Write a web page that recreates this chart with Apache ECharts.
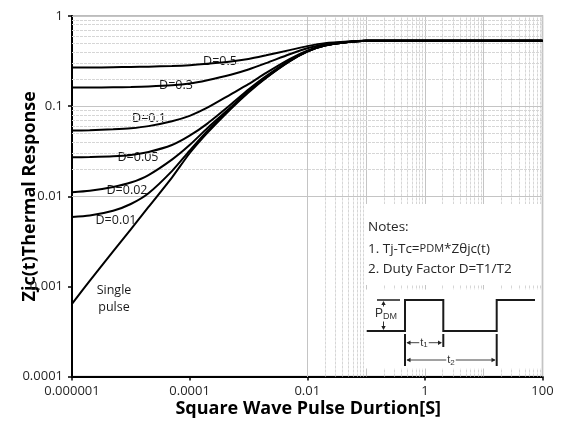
<!DOCTYPE html>
<html><head><meta charset="utf-8">
<script src="https://cdn.jsdelivr.net/npm/echarts@6/dist/echarts.min.js"></script>
<style>html,body{margin:0;padding:0;background:#fff}#c{width:565px;height:423px}</style>
</head><body><div id="c"></div>
<script>
// ---- data ----
const TIME = [1e-6,2e-6,5e-6,1e-5,2e-5,5e-5,1e-4,2e-4,5e-4,1e-3,2e-3,5e-3,1e-2,2e-2,5e-2,0.1,0.2,1,10,100];
const D_05   = [0.268,0.268,0.27,0.272,0.274,0.279,0.285,0.295,0.312,0.333,0.366,0.418,0.463,0.5,0.522,0.531,0.532,0.532,0.532,0.532];
const D_03   = [0.161,0.161,0.162,0.163,0.165,0.17,0.178,0.194,0.223,0.255,0.3,0.376,0.438,0.487,0.518,0.53,0.532,0.532,0.532,0.532];
const D_01   = [0.0535,0.054,0.0553,0.0568,0.06,0.068,0.078,0.096,0.135,0.175,0.234,0.333,0.413,0.475,0.515,0.531,0.532,0.532,0.532,0.532];
const D_005  = [0.027,0.0272,0.0277,0.0287,0.031,0.037,0.047,0.064,0.104,0.153,0.216,0.32,0.408,0.472,0.514,0.531,0.532,0.532,0.532,0.532];
const D_002  = [0.0111,0.0115,0.0127,0.0142,0.0172,0.0255,0.037,0.057,0.097,0.147,0.21,0.318,0.405,0.471,0.514,0.531,0.532,0.532,0.532,0.532];
const D_001  = [0.0059,0.0061,0.0069,0.0082,0.0108,0.019,0.032,0.053,0.095,0.145,0.208,0.316,0.404,0.47,0.513,0.531,0.532,0.532,0.532,0.532];
const SINGLE = [0.00064,0.00115,0.00244,0.0043,0.0076,0.0161,0.030,0.0505,0.093,0.142,0.206,0.314,0.403,0.47,0.513,0.53,0.532,0.532,0.532,0.532];
const SERIES_NAMES = ['D=0.5','D=0.3','D=0.1','D=0.05','D=0.02','D=0.01','Single pulse'];
const X_TICK_LABELS = {'-6':'0.000001','-4':'0.0001','-2':'0.01','0':'1','2':'100'};
const Y_TICK_LABELS = {'0':'1','-1':'0.1','-2':'0.01','-3':'0.001','-4':'0.0001'};
const X_DECADES = [-6,-5,-4,-3,-2,-1,0,1,2];
const Y_DECADES = [-4,-3,-2,-1,0];

const allValues = [D_05,D_03,D_01,D_005,D_002,D_001,SINGLE];

// gridlines (log major + 2..9 minor)
const gridData = [];
const majorStyle = {color:'#c4c4c4', width:1, type:'solid'};
const minorStyle = {color:'#d6d6d6', width:1, type:[3,1]};
X_DECADES.forEach(e => {
  gridData.push({xAxis: Math.pow(10,e), lineStyle: majorStyle});
  if (e < 2) for (let m = 2; m <= 9; m++) gridData.push({xAxis: m*Math.pow(10,e), lineStyle: minorStyle});
});
Y_DECADES.forEach(e => {
  gridData.push({yAxis: Math.pow(10,e), lineStyle: majorStyle});
  if (e < 0) for (let m = 2; m <= 9; m++) gridData.push({yAxis: m*Math.pow(10,e), lineStyle: minorStyle});
});

const series = [{
  type:'line', data:[], z:1, silent:true,
  markLine:{silent:true, symbol:'none', animation:false, label:{show:false}, data:gridData}
}];
allValues.forEach((vals,i) => {
  series.push({
    name: SERIES_NAMES[i], type:'line', z:5, smooth:0.25, showSymbol:false, symbol:'none',
    lineStyle:{color:'#000', width:2}, animation:false,
    data: TIME.map((t,j) => [t, vals[j]])
  });
});

const tickFont = {fontFamily:'Open Sans', fontSize:13, color:'#262626'};
function lbl(text, x, y) {
  return {type:'text', z:2, silent:true, style:{text:text, x:x, y:y, fill:'#1a1a1a', stroke:null, lineWidth:0,
    font:'12.5px "Open Sans"', textAlign:'center', textVerticalAlign:'middle'}};
}
function arrowHead(x, y, dir) {
  const s = 4, w = 2.2;
  let pts;
  if (dir==='l') pts = [[x,y],[x+s,y-w],[x+s,y+w]];
  if (dir==='r') pts = [[x,y],[x-s,y-w],[x-s,y+w]];
  if (dir==='u') pts = [[x,y],[x-w,y+s],[x+w,y+s]];
  if (dir==='d') pts = [[x,y],[x-w,y-s],[x+w,y-s]];
  return {type:'polygon', z:60, shape:{points:pts}, style:{fill:'#222'}};
}
function seg(x1,y1,x2,y2,w,c) {
  return {type:'line', z:60, shape:{x1,y1,x2,y2}, style:{stroke:c||'#1a1a1a', lineWidth:w||2}};
}

const graphics = [
  lbl('D=0.5', 220, 61), lbl('D=0.3', 176, 85), lbl('D=0.1', 149, 118),
  lbl('D=0.05', 138, 157), lbl('D=0.02', 127, 190), lbl('D=0.01', 116, 220),
  lbl('Single', 114, 290), lbl('pulse', 114, 307),
  {type:'rect', z:40, shape:{x:364, y:204, width:177, height:81}, style:{fill:'#fff'}},
  {type:'rect', z:40, shape:{x:364, y:289.5, width:177, height:79}, style:{fill:'#fff'}},
  {type:'text', z:50, style:{text:'Notes:', x:368, y:227, fill:'#262626', font:'13.5px "Open Sans"', textVerticalAlign:'middle'}},
  {type:'text', z:50, style:{text:'{n|1. Tj-Tc=}{s|PDM}{n|*Zθjc(t)}', x:368, y:249, textVerticalAlign:'middle',
    rich:{n:{fill:'#262626', font:'13.5px "Open Sans"'}, s:{fill:'#262626', font:'11px "Open Sans"'}}}},
  {type:'text', z:50, style:{text:'2. Duty Factor D=T1/T2', x:368, y:269, fill:'#262626', font:'13.5px "Open Sans"', textVerticalAlign:'middle'}},
  {type:'polyline', z:60, shape:{points:[[366.7,331],[405,331],[405,300],[443.3,300],[443.3,331],[496.7,331],[496.7,300],[535,300]]},
    style:{stroke:'#1a1a1a', lineWidth:2, fill:null}},
  seg(377,300,400,300,1.5),
  seg(383.5,302,383.5,329,1,'#333'), arrowHead(383.5,301,'u'), arrowHead(383.5,330,'d'),
  {type:'text', z:65, style:{text:'{p|P}{d|DM}', x:386, y:314, textAlign:'center', textVerticalAlign:'middle',
    backgroundColor:'#fff', padding:[0,1],
    rich:{p:{fill:'#333', font:'12px "Liberation Sans"'}, d:{fill:'#333', font:'9px "Liberation Sans"', padding:[6,0,0,0]}}}},
  seg(405,334,405,366,2), seg(443.3,334,443.3,347,2), seg(496.7,334,496.7,366,2),
  seg(407,342.7,441,342.7,1,'#444'), arrowHead(406.5,342.7,'l'), arrowHead(442,342.7,'r'),
  {type:'text', z:65, style:{text:'{a|t}{b|1}', x:424, y:342.5, textAlign:'center', textVerticalAlign:'middle', backgroundColor:'#fff', padding:[0,1],
    rich:{a:{fill:'#333', font:'11px "Liberation Sans"'}, b:{fill:'#333', font:'8px "Liberation Sans"', padding:[5,0,0,0]}}}},
  seg(407,360,495,360,1,'#444'), arrowHead(406.5,360,'l'), arrowHead(495.5,360,'r'),
  {type:'text', z:65, style:{text:'{a|t}{b|2}', x:451, y:360, textAlign:'center', textVerticalAlign:'middle', backgroundColor:'#fff', padding:[0,1],
    rich:{a:{fill:'#333', font:'11px "Liberation Sans"'}, b:{fill:'#333', font:'8px "Liberation Sans"', padding:[5,0,0,0]}}}}
];

const chart = echarts.init(document.getElementById('c'), null, {renderer:'canvas'});
chart.setOption({
  backgroundColor:'#fff',
  animation:false,
  grid:{left:72, top:16, right:22.5, bottom:46.5, show:true, borderColor:'#a6a6a6', borderWidth:1.5, backgroundColor:'transparent'},
  xAxis:{
    type:'log', logBase:10, min:1e-6, max:100, interval:2,
    name:'Square Wave Pulse Durtion[S]', nameLocation:'middle', nameGap:23, nameMoveOverlap:false,
    nameTextStyle:{fontFamily:'Open Sans', fontWeight:'bold', fontSize:18, color:'#000', verticalAlign:'top', padding:[0,0,0,2]},
    axisLine:{show:true, onZero:false, lineStyle:{color:'#000', width:2}},
    axisTick:{show:true, length:4, lineStyle:{color:'#000', width:1.5}},
    minorTick:{show:false}, splitLine:{show:false}, minorSplitLine:{show:false},
    axisLabel:Object.assign({margin:8, formatter:v => {
      const e = Math.round(Math.log10(v)); return X_TICK_LABELS[String(e)] || '';
    }}, tickFont)
  },
  yAxis:{
    type:'log', logBase:10, min:1e-4, max:1,
    name:'Zjc(t)Thermal Response', nameLocation:'middle', nameGap:33, nameMoveOverlap:false,
    nameTextStyle:{fontFamily:'Open Sans', fontWeight:'bold', fontSize:18, color:'#000'},
    axisLine:{show:true, onZero:false, lineStyle:{color:'#000', width:2}},
    axisTick:{show:true, length:4, lineStyle:{color:'#000', width:1.5}},
    minorTick:{show:false}, splitLine:{show:false}, minorSplitLine:{show:false},
    axisLabel:Object.assign({margin:9, formatter:v => {
      const e = Math.round(Math.log10(v)); return Y_TICK_LABELS[String(e)] || '';
    }}, tickFont)
  },
  series: series,
  graphic: graphics
});
</script></body></html>
